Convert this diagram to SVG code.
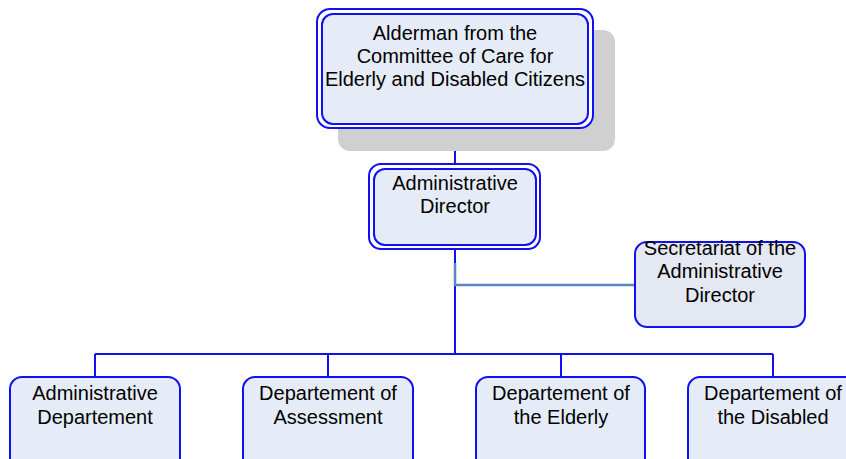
<svg xmlns="http://www.w3.org/2000/svg" width="846" height="459" viewBox="0 0 846 459">
<style>
.box{fill:#e6ecf7;stroke:#1010f0;stroke-width:2}
.t{font-family:"Liberation Sans",Arial,sans-serif;font-size:20px;fill:#000;text-anchor:middle}
.c{fill:none;stroke:#1010f0;stroke-width:2}
</style>
<rect width="846" height="459" fill="#fff"/>
<g id="connectors">
<path class="c" d="M455 128V165M455 249V354M95 354H773M95 354V377M328 354V377M561 354V377M773 354V377"/>
<path d="M455 263V285H636" fill="none" stroke="#5a86c8" stroke-width="2.5"/>
</g>
<g id="alderman">
<rect x="338" y="30" width="277" height="121" rx="12" fill="#d0d0d0"/>
<rect x="317" y="9" width="276" height="119" rx="13" fill="#fff" stroke="#1010f0" stroke-width="2"/>
<rect class="box" x="322" y="14" width="266" height="110" rx="11"/>
<text class="t" x="455" y="40">Alderman from the</text>
<text class="t" x="455" y="63">Committee of Care for</text>
<text class="t" x="455" y="86">Elderly and Disabled Citizens</text>
</g>
<g id="director">
<rect x="369" y="164" width="171" height="85" rx="12" fill="#fff" stroke="#1010f0" stroke-width="2"/>
<rect class="box" x="374" y="169" width="162" height="76" rx="11"/>
<text class="t" x="455" y="190">Administrative</text>
<text class="t" x="455" y="213">Director</text>
</g>
<g id="secretariat">
<rect class="box" x="635" y="242" width="170" height="85" rx="12" style="fill:#e3e8f2"/>
<text class="t" x="720" y="255">Secretariat of the</text>
<text class="t" x="720" y="278">Administrative</text>
<text class="t" x="720" y="302">Director</text>
</g>
<g id="admin-dept">
<rect class="box" x="10" y="377" width="170" height="95" rx="12"/>
<text class="t" x="95" y="400">Administrative</text>
<text class="t" x="95" y="424">Departement</text>
</g>
<g id="assessment">
<rect class="box" x="243" y="377" width="170" height="95" rx="12"/>
<text class="t" x="328" y="400">Departement of</text>
<text class="t" x="328" y="424">Assessment</text>
</g>
<g id="elderly">
<rect class="box" x="476" y="377" width="169" height="95" rx="12"/>
<text class="t" x="561" y="400">Departement of</text>
<text class="t" x="561" y="424">the Elderly</text>
</g>
<g id="disabled">
<rect class="box" x="688" y="377" width="170" height="95" rx="12"/>
<text class="t" x="773" y="400">Departement of</text>
<text class="t" x="773" y="424">the Disabled</text>
</g>
</svg>
